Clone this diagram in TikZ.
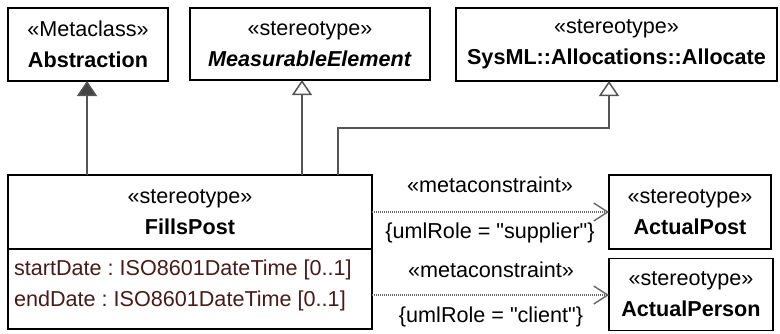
\documentclass[tikz,border=0pt]{standalone}
\usepackage{fontspec}
\setmainfont{Liberation Sans}
\usetikzlibrary{arrows.meta}
\definecolor{conn}{HTML}{555555}
\definecolor{attr}{HTML}{4A1A1A}
\begin{document}
\frenchspacing
\begin{tikzpicture}[x=0.5pt,y=-0.5pt,
  every node/.style={font=\fontsize{10.8}{15.5}\selectfont, inner sep=0pt, outer sep=0pt},
  umlbox/.style={draw=black, line width=0.8pt, align=center, fill=white},
  conline/.style={draw=conn, line width=0.75pt},
  genfilled/.style={conline, -{Triangle[length=7.5pt,width=10pt,fill=conn!80!black]}},
  genopen/.style={conline, -{Triangle[open,length=7.5pt,width=10pt,fill=white]}},
  metac/.style={draw=conn!90, line width=0.7pt, dash pattern=on 0.6pt off 0.4pt,
     -{Straight Barb[length=7pt,width=9pt,line width=0.7pt]}},
  lbl/.style={align=center}]
\useasboundingbox (0,0) rectangle (780,333);
% top boxes
\node[umlbox, minimum width=80pt, minimum height=36.5pt] (abs) at (88,44.5) {«Metaclass»\\\textbf{Abstraction}};
\node[umlbox, minimum width=120pt, minimum height=36pt] (meas) at (310,44) {«stereotype»\\\textbf{\textit{MeasurableElement}}};
\node[umlbox, minimum width=160.5pt, minimum height=36.5pt] (alloc) at (616.5,44.5) {«stereotype»\\\textbf{SysML::Allocations::Allocate}};
% FillsPost
\node[umlbox, minimum width=182pt, minimum height=37pt] (fills) at (190,212) {«stereotype»\\\textbf{FillsPost}};
\node[umlbox, minimum width=182pt, minimum height=40pt, anchor=north] (fillsattr) at (fills.south) {};
\node[anchor=west, align=left, text=attr] (attrs) at (14,285.5) {startDate : ISO8601DateTime [0..1]\\endDate : ISO8601DateTime [0..1]};
% right boxes
\node[umlbox, minimum width=81pt, minimum height=37pt] (post) at (690,212) {«stereotype»\\\textbf{ActualPost}};
\node[umlbox, minimum width=82pt, minimum height=36pt] (person) at (691,294.5) {«stereotype»\\\textbf{ActualPerson}};
% generalizations
\coordinate (g1) at (87,175);
\coordinate (g2) at (302,175);
\coordinate (g3) at (338,175);
\coordinate (b3) at (338,128);
\coordinate (c3) at (609,128);
\draw[genfilled] (g1) -- (g1 |- abs.south);
\draw[genopen] (g2) -- (g2 |- meas.south);
\draw[genopen] (g3) -- (b3) -- (c3) -- (c3 |- alloc.south);
% metaconstraints
\coordinate (m1) at (372,212);
\coordinate (m2) at (372,295);
\draw[metac] (m1) -- (post.west |- m1);
\draw[metac] (m2) -- (person.west |- m2);
\node[lbl] (l1) at (490,185) {«metaconstraint»};
\node[lbl] (l2) at (490,233) {\{umlRole = \textquotedbl supplier\textquotedbl\}};
\node[lbl] (l3) at (491,270) {«metaconstraint»};
\node[lbl] (l4) at (491,317) {\{umlRole = \textquotedbl client\textquotedbl\}};
\end{tikzpicture}
\end{document}
